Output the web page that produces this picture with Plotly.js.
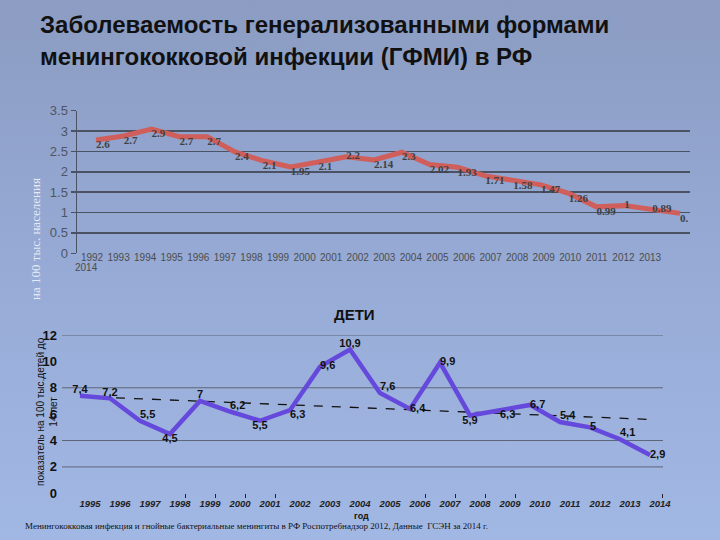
<!DOCTYPE html>
<html>
<head>
<meta charset="utf-8">
<script src="https://cdn.plot.ly/plotly-3.0.1.min.js"></script>
<style>
html,body{margin:0;padding:0;}
body{width:720px;height:540px;background:linear-gradient(to bottom,#8c9cc2 0%,#95a9d4 45%,#a2b8e4 100%);}
#chart{width:720px;height:540px;}
</style>
</head>
<body>
<div id="chart"></div>
<script>
// ---- Top chart: all population (per 100 000) ----
const topYears = [1992,1993,1994,1995,1996,1997,1998,1999,2000,2001,2002,2003,2004,2005,2006,2007,2008,2009,2010,2011,2012,2013];
const topValues = [2.78,2.88,3.05,2.86,2.86,2.49,2.27,2.12,2.24,2.37,2.29,2.48,2.18,2.11,1.90,1.78,1.68,1.47,1.14,1.17,1.09,0.98];
const topLabels = ["2.6","2.7","2.9","2.7","2.7","2.4","2.1","1.95","2.1","2.2","2.14","2.3","2.02","1.93","1.71","1.58","1.47","1.26","0.99","1","0.89","0."];
const topTickYears = [1992,1993,1994,1995,1996,1997,1998,1999,2000,2001,2002,2003,2004,2005,2006,2007,2008,2009,2010,2011,2012,2013];
const topTickText = ["1992","1993","1994","1995","1996","1997","1998","1999","2000","2001","2002","2003","2004","2005","2006","2007","2008","2009","2010","2011","2012","2013"];
const topWrappedTick = "2014";

// ---- Bottom chart: children (per 100 000 children under 14) ----
const childYears = [1995,1996,1997,1998,1999,2000,2001,2002,2003,2004,2005,2006,2007,2008,2009,2010,2011,2012,2013,2014];
const childValues = [7.4,7.2,5.5,4.5,7,6.2,5.5,6.3,9.6,10.9,7.6,6.4,9.9,5.9,6.3,6.7,5.4,5,4.1,2.9];
const childLabels = ["7,4","7,2","5,5","4,5","7","6,2","5,5","6,3","9,6","10,9","7,6","6,4","9,9","5,9","6,3","6,7","5,4","5","4,1","2,9"];
const childTickText = ["1995","1996","1997","1998","1999","2000","2001","2002","2003","2004","2005","2006","2007","2008","2009","2010","2011","2012","2013","2014"];
const trendYears = [1995,2014];
const trendValues = [7.35,5.6];
const childGrid = [2,4,8,12];

const topPos = ["bottom right","bottom right","bottom right","bottom right","bottom right","bottom right","bottom right","bottom right","bottom right","middle right","bottom right","bottom right","bottom right","bottom right","bottom right","bottom right","bottom right","bottom right","bottom right","middle right","middle right","bottom right"];
const childPos = ["top center","top center","top right","bottom center","top center","top right","bottom center","bottom right","middle right","top center","top right","middle right","middle right","bottom center","bottom right","middle right","top right","middle right","top right","middle right"];

const PX = v => v/720, PY = v => 1 - v/540;

const traces = [
  {x: topYears, y: topValues, text: topLabels, mode: 'lines+text', textposition: topPos,
   xaxis: 'x3', yaxis: 'y', line: {color: '#d05e5a', width: 5}, cliponaxis: false,
   textfont: {family: 'Liberation Serif', size: 11, color: '#404040', weight: 'bold'}, hoverinfo: 'skip'},
  {x: [topTickYears[0]], y: [0], mode: 'markers', marker: {opacity: 0}, xaxis: 'x', yaxis: 'y', hoverinfo: 'skip'},
  {x: trendYears, y: trendValues, mode: 'lines', xaxis: 'x2', yaxis: 'y2',
   line: {color: '#111', width: 1.3, dash: 'dash'}, hoverinfo: 'skip'},
  {x: childYears, y: childValues, text: childLabels, mode: 'lines+text', textposition: childPos,
   xaxis: 'x2', yaxis: 'y2', line: {color: '#6549dc', width: 4.5}, cliponaxis: false,
   textfont: {family: 'Liberation Sans', size: 11, color: '#111', weight: 'bold'}, hoverinfo: 'skip'}
];

const ann = (text, x, y, opts) => Object.assign({text, x: PX(x), y: PY(y), xref: 'paper', yref: 'paper',
  showarrow: false, xanchor: 'center', yanchor: 'middle'}, opts);

const layout = {
  width: 720, height: 540,
  margin: {l: 0, r: 0, t: 0, b: 0},
  paper_bgcolor: 'rgba(0,0,0,0)', plot_bgcolor: 'rgba(0,0,0,0)',
  showlegend: false,
  font: {family: 'Liberation Sans'},
  xaxis: {domain: [PX(77), PX(690)], anchor: 'y', range: [1991.435, 2014.505],
          tickvals: topTickYears, ticktext: topTickText, showgrid: false, zeroline: false, showline: false,
          ticks: '', tickfont: {size: 10, color: '#4d4d4d'}, ticklabelstandoff: -3, fixedrange: true},
  xaxis3: {domain: [PX(77), PX(690)], anchor: 'y', overlaying: 'x', range: [1991.317, 2013.36], visible: false},
  yaxis: {domain: [PY(253.3), PY(110.7)], anchor: 'x', range: [0, 3.5], dtick: 0.5, tick0: 0,
          showgrid: true, gridcolor: '#4a5263', gridwidth: 1.5, zeroline: false,
          showline: true, linecolor: '#4a5263', linewidth: 1.5,
          ticks: 'outside', ticklen: 5, tickcolor: '#4a5263', tickwidth: 1.5,
          tickfont: {size: 13, color: '#4e5566'}},
  xaxis2: {domain: [PX(62), PX(663)], anchor: 'y2', range: [1994.4, 2014.433],
           tickvals: childYears, ticktext: childTickText, ticklabelshift: 10, ticklabelstandoff: 3,
           showgrid: false, zeroline: false, showline: false, ticks: '',
           tickfont: {size: 9.5, color: '#222', weight: 'bold', style: 'italic'},
           minor: {tickvals: [1998.5,1999.5,2000.5,2001.5,2006.5,2007.5,2008.5,2009.5,2014.43], ticks: 'outside', ticklen: 4, tickcolor: '#222', showgrid: false}},
  yaxis2: {domain: [PY(493.3), PY(335)], anchor: 'x2', range: [0, 12], dtick: 2, tick0: 0,
           showgrid: false, zeroline: false, showline: false, ticks: '', ticklabelstandoff: 4,
           tickfont: {size: 13, color: '#111', weight: 'bold'}},
  shapes: childGrid.map(v => ({type: 'line', xref: 'x2 domain', yref: 'y2', x0: 0, x1: 1, y0: v, y1: v,
           line: {color: '#5d6578', width: 1}, layer: 'below'})),
  annotations: [
    ann('Заболеваемость генерализованными формами', 38, 25, {xanchor: 'left', font: {size: 24, color: '#111', weight: 'bold'}}),
    ann('менингококковой инфекции (ГФМИ) в РФ', 38, 56, {xanchor: 'left', font: {size: 24, color: '#111', weight: 'bold'}}),
    ann(topWrappedTick, 86, 268, {font: {size: 10, color: '#4d4d4d'}}),
    ann('на 100 тыс. населения', 35, 239, {textangle: -90, font: {family: 'Liberation Serif', size: 13, color: '#e4eaf6'}}),
    ann('ДЕТИ', 354, 314, {font: {size: 15, color: '#111', weight: 'bold'}}),
    ann('показатель на 100 тыс.детей до<br>14 лет', 47, 412, {textangle: -90, font: {size: 10, color: '#111'}}),
    ann('год', 361, 516, {font: {size: 9, color: '#111', weight: 'bold'}}),
    ann('Менингококковая инфекция и гнойные бактериальные менингиты в РФ Роспотребнадзор 2012, Данные  ГСЭН за 2014 г.', 23, 526,
        {xanchor: 'left', font: {family: 'Liberation Serif', size: 9, color: '#111'}})
  ]
};

Plotly.newPlot('chart', traces, layout, {displayModeBar: false, staticPlot: true});
</script>
</body>
</html>
